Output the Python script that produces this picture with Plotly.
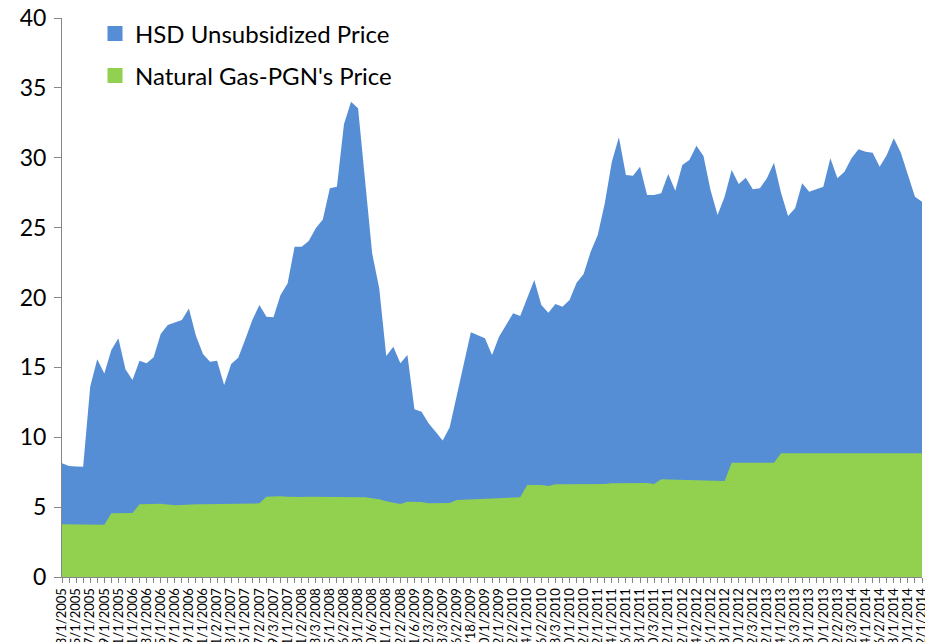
import plotly.graph_objects as go

categories = [
    "3/1/2005", "4/1/2005", "5/1/2005", "6/1/2005", "7/1/2005", "8/1/2005", "9/1/2005", "10/1/2005",
    "11/1/2005", "12/1/2005", "1/1/2006", "2/1/2006", "3/1/2006", "4/1/2006", "5/1/2006", "6/1/2006",
    "7/1/2006", "8/1/2006", "9/1/2006", "10/2/2006", "11/1/2006", "12/1/2006", "1/2/2007", "2/1/2007",
    "3/1/2007", "4/2/2007", "5/1/2007", "6/1/2007", "7/2/2007", "8/1/2007", "9/3/2007", "10/1/2007",
    "11/1/2007", "12/3/2007", "1/2/2008", "2/1/2008", "3/3/2008", "4/1/2008", "5/1/2008", "5/24/2008",
    "6/2/2008", "7/1/2008", "8/1/2008", "9/1/2008", "10/6/2008", "10/15/2008", "11/1/2008", "11/15/2008",
    "12/2/2008", "12/15/2008", "1/6/2009", "1/15/2009", "2/3/2009", "2/15/2009", "3/3/2009", "4/1/2009",
    "6/2/2009", "7/1/2009", "8/18/2009", "9/1/2009", "10/1/2009", "11/2/2009", "12/1/2009", "1/4/2010",
    "2/2/2010", "3/1/2010", "4/1/2010", "5/3/2010", "6/2/2010", "7/1/2010", "8/3/2010", "9/1/2010",
    "10/1/2010", "11/1/2010", "12/1/2010", "1/3/2011", "2/1/2011", "3/1/2011", "4/1/2011", "5/2/2011",
    "6/1/2011", "7/1/2011", "8/1/2011", "9/1/2011", "10/3/2011", "11/1/2011", "12/1/2011", "1/2/2012",
    "2/1/2012", "3/1/2012", "4/2/2012", "5/1/2012", "6/1/2012", "7/2/2012", "8/1/2012", "9/3/2012",
    "10/1/2012", "11/1/2012", "12/3/2012", "1/2/2013", "2/1/2013", "3/1/2013", "4/1/2013", "5/1/2013",
    "6/3/2013", "7/1/2013", "8/1/2013", "9/2/2013", "10/1/2013", "11/1/2013", "12/2/2013", "1/2/2014",
    "2/3/2014", "3/3/2014", "4/1/2014", "5/1/2014", "6/2/2014", "7/1/2014", "8/1/2014", "9/1/2014",
    "10/1/2014", "11/3/2014", "12/1/2014",
]

hsd_price = [
    8.14, 7.94, 7.90, 7.89, 13.62, 15.58, 14.57, 16.24, 17.08, 14.86,
    14.10, 15.48, 15.29, 15.72, 17.39, 18.03, 18.22, 18.39, 19.22, 17.27,
    15.95, 15.41, 15.48, 13.74, 15.24, 15.69, 17.01, 18.39, 19.46, 18.63,
    18.58, 20.18, 21.01, 23.64, 23.64, 24.04, 24.95, 25.59, 27.81, 27.93,
    32.40, 34.01, 33.54, 28.30, 23.16, 20.66, 15.81, 16.48, 15.29, 15.89,
    12.00, 11.83, 11.00, 10.40, 9.76, 10.71, 13.02, 15.41, 17.51, 17.30,
    17.08, 15.89, 17.20, 18.03, 18.87, 18.68, 19.94, 21.25, 19.46, 18.91,
    19.53, 19.34, 19.82, 21.06, 21.68, 23.28, 24.47, 26.74, 29.72, 31.46,
    28.77, 28.72, 29.35, 27.33, 27.33, 27.46, 28.84, 27.64, 29.48, 29.84,
    30.86, 30.13, 27.69, 25.90, 27.21, 29.12, 28.12, 28.57, 27.74, 27.81,
    28.53, 29.64, 27.50, 25.83, 26.38, 28.17, 27.57, 27.76, 27.93, 29.96,
    28.53, 29.00, 29.96, 30.60, 30.43, 30.36, 29.36, 30.20, 31.39, 30.36,
    28.77, 27.21, 26.86,
]

gas_price = [
    3.78, 3.78, 3.77, 3.77, 3.76, 3.75, 3.74, 4.56, 4.56, 4.57,
    4.58, 5.20, 5.21, 5.23, 5.24, 5.18, 5.13, 5.15, 5.20, 5.21,
    5.21, 5.22, 5.22, 5.24, 5.24, 5.25, 5.25, 5.26, 5.27, 5.75,
    5.77, 5.77, 5.74, 5.72, 5.72, 5.75, 5.75, 5.74, 5.73, 5.73,
    5.73, 5.75, 5.75, 5.70, 5.63, 5.56, 5.42, 5.32, 5.22, 5.39,
    5.38, 5.36, 5.28, 5.27, 5.27, 5.30, 5.51, 5.53, 5.55, 5.56,
    5.63, 5.65, 5.67, 5.68, 5.69, 5.70, 6.58, 6.58, 6.58, 6.51,
    6.63, 6.63, 6.63, 6.63, 6.63, 6.63, 6.63, 6.66, 6.70, 6.71,
    6.72, 6.72, 6.73, 6.72, 6.65, 6.99, 6.98, 6.97, 6.96, 6.95,
    6.94, 6.92, 6.90, 6.88, 6.87, 8.18, 8.18, 8.18, 8.18, 8.18,
    8.18, 8.18, 8.85, 8.85, 8.85, 8.85, 8.85, 8.85, 8.85, 8.85,
    8.85, 8.85, 8.85, 8.85, 8.85, 8.85, 8.85, 8.85, 8.85, 8.85,
    8.85, 8.85, 8.85,
]

tick_labels = [c if i % 2 == 0 else "" for i, c in enumerate(categories)]

series_names = ["HSD Unsubsidized Price", "Natural Gas-PGN's Price"]
blue = "#558ED5"
green = "#92D050"
font = "Lato"

fig = go.Figure()
fig.add_trace(go.Scatter(x=categories, y=hsd_price, mode="lines", line=dict(width=0, color=blue),
                         fill="tozeroy", fillcolor=blue, showlegend=False, name=series_names[0]))
fig.add_trace(go.Scatter(x=categories, y=gas_price, mode="lines", line=dict(width=0, color=green),
                         fill="tozeroy", fillcolor=green, showlegend=False, name=series_names[1]))
# legend entries as square markers
for nm, col, grp in [(series_names[0], blue, "a"), (series_names[1], green, "b")]:
    fig.add_trace(go.Scatter(x=[None], y=[None], mode="markers", name=nm, legendgroup=grp,
                             marker=dict(symbol="square", size=15, color=col)))

fig.update_layout(
    width=925, height=642,
    margin=dict(l=62, r=3, t=18, b=65),
    paper_bgcolor="white", plot_bgcolor="white",
    font=dict(family=font, color="black"),
    showlegend=True,
    legend=dict(x=(95 - 62) / 860, xanchor="left", y=1.012, yanchor="top",
                font=dict(size=24, family=font),
                traceorder="grouped", tracegroupgap=8, bgcolor="rgba(0,0,0,0)",
                itemsizing="trace"),
    xaxis=dict(type="category", range=[0, len(categories) - 1], tickmode="array",
               tickvals=categories, ticktext=tick_labels, tickangle=-90,
               tickfont=dict(size=13, family=font), ticks="outside", ticklen=5,
               tickcolor="#868686", showline=True, linecolor="#868686", linewidth=1,
               showgrid=False, zeroline=False, automargin=False, ticklabeloverflow="allow"),
    yaxis=dict(range=[0, 40], dtick=5, tickfont=dict(size=23, family=font),
               ticks="outside", ticklen=7, tickcolor="#868686", showline=True,
               linecolor="#868686", linewidth=1, showgrid=False, zeroline=False,
               ticklabelstandoff=3, automargin=False, ticklabeloverflow="allow"),
)

# remove the page's default body margin so the figure fills the window exactly
fig.write_html("out.html", config={"displayModeBar": False},
               post_script="document.body.style.margin='0';")
